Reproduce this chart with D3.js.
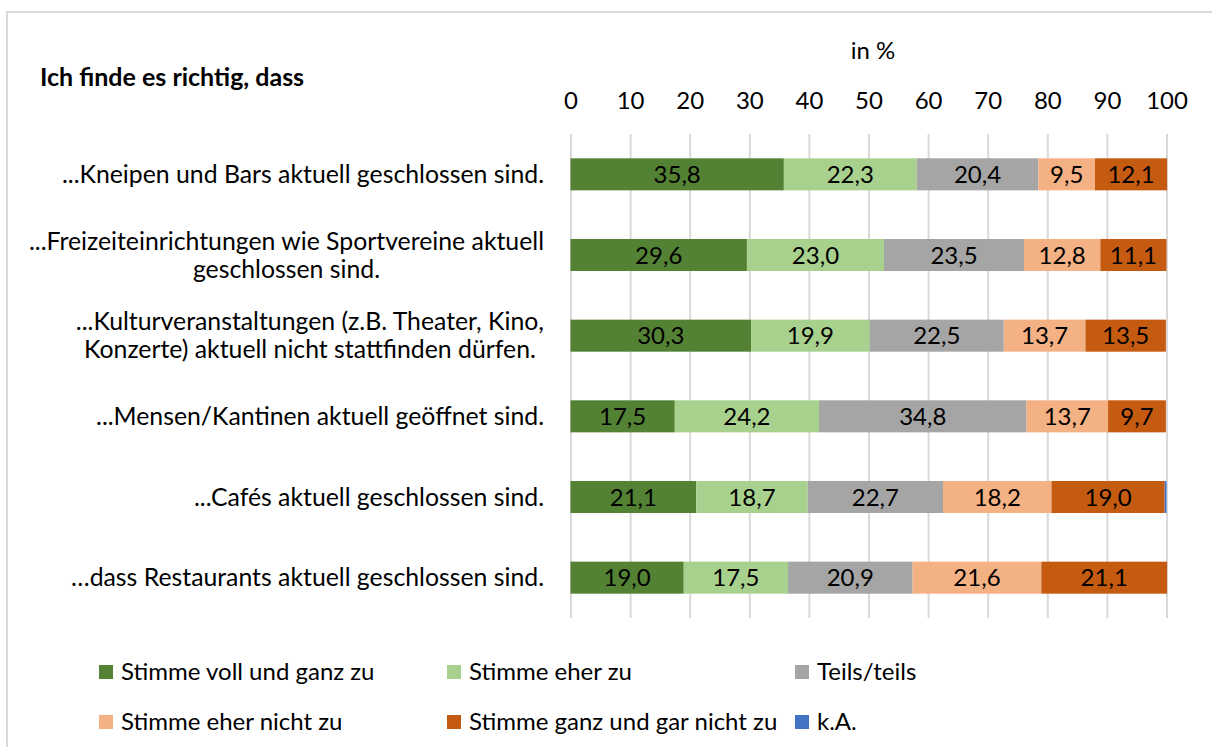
<!DOCTYPE html>
<html>
<head>
<meta charset="utf-8">
<script src="https://cdn.jsdelivr.net/npm/d3@7"></script>
<style>
  body { margin: 0; background: #fff; }
  text { font-family: Lato, "Open Sans", sans-serif; fill: #000; }
</style>
</head>
<body>
<div id="chart"></div>
<script>
// categories (top to bottom), each label split in lines
var categories = [
  ["...Kneipen und Bars aktuell geschlossen sind."],
  ["...Freizeiteinrichtungen wie Sportvereine aktuell", "geschlossen sind."],
  ["...Kulturveranstaltungen (z.B. Theater, Kino,", "Konzerte) aktuell nicht stattfinden dürfen."],
  ["...Mensen/Kantinen aktuell geöffnet sind."],
  ["...Cafés aktuell geschlossen sind."],
  ["…dass Restaurants aktuell geschlossen sind."]
];

var seriesNames = ["Stimme voll und ganz zu", "Stimme eher zu", "Teils/teils",
  "Stimme eher nicht zu", "Stimme ganz und gar nicht zu", "k.A."];
var seriesColors = ["#548235", "#A9D18E", "#A5A5A5", "#F4B183", "#C55A11", "#4472C4"];

// values per series, one per category
var vollGanz   = [35.8, 29.6, 30.3, 17.5, 21.1, 19.0];
var eherZu     = [22.3, 23.0, 19.9, 24.2, 18.7, 17.5];
var teilsTeils = [20.4, 23.5, 22.5, 34.8, 22.7, 20.9];
var eherNicht  = [9.5, 12.8, 13.7, 13.7, 18.2, 21.6];
var garNicht   = [12.1, 11.1, 13.5, 9.7, 19.0, 21.1];
var keineAngabe = [0, 0, 0, 0, 0.3, 0];

var xTicks = [0, 10, 20, 30, 40, 50, 60, 70, 80, 90, 100];

var width = 1212, height = 747;
var fs = 24;
var series = [vollGanz, eherZu, teilsTeils, eherNicht, garNicht, keineAngabe];

var rows = categories.map(function(c, i) {
  var r = { key: i };
  seriesNames.forEach(function(s, j) { r[s] = series[j][i]; });
  return r;
});

var svg = d3.select("#chart").append("svg")
  .attr("width", width)
  .attr("height", height);

// outer frame
svg.append("rect")
  .attr("x", 7).attr("y", 12)
  .attr("width", 1220).attr("height", 760)
  .attr("fill", "none")
  .attr("stroke", "#D9D9D9")
  .attr("stroke-width", 2);

var x = d3.scaleLinear().domain([0, 100]).range([570.5, 1166.5]);
var y = d3.scaleBand().domain(d3.range(categories.length))
  .range([134, 618]).paddingInner(0.603).paddingOuter(0.3015);

// gridlines
var grid = svg.append("g")
  .attr("transform", "translate(0,134)")
  .call(d3.axisBottom(x).tickValues(xTicks).tickSize(484).tickFormat(""));
grid.select(".domain").remove();
grid.selectAll("line").attr("stroke", "#D9D9D9").attr("stroke-width", 2);

// tick labels on top
var xAxisTop = svg.append("g")
  .attr("transform", "translate(0,109)")
  .call(d3.axisTop(x).tickValues(xTicks).tickSize(0).tickPadding(0));
xAxisTop.select(".domain").remove();
xAxisTop.selectAll("text")
  .attr("font-size", fs)
  .attr("font-family", "Lato, 'Open Sans', sans-serif")
  .attr("fill", "#000");

svg.append("text")
  .attr("x", 873).attr("y", 51)
  .attr("dy", "0.35em")
  .attr("text-anchor", "middle")
  .attr("font-size", fs)
  .text("in %");

svg.append("text")
  .attr("x", 40).attr("y", 77)
  .attr("dy", "0.35em")
  .attr("font-size", 25)
  .attr("font-weight", "bold")
  .text("Ich finde es richtig, dass");

// stacked bars
var stack = d3.stack().keys(seriesNames)(rows);

var layers = svg.append("g").selectAll("g")
  .data(stack)
  .enter().append("g")
  .attr("fill", function(d, i) { return seriesColors[i]; });

layers.selectAll("rect")
  .data(function(d) { return d; })
  .enter().append("rect")
  .attr("x", function(d) { return x(d[0]); })
  .attr("y", function(d) { return y(d.data.key); })
  .attr("width", function(d) { return Math.max(0, x(d[1]) - x(d[0])); })
  .attr("height", y.bandwidth());

layers.selectAll("text")
  .data(function(d) { return d.filter(function(e) { return e[1] - e[0] >= 1; }); })
  .enter().append("text")
  .attr("x", function(d) { return (x(d[0]) + x(d[1])) / 2; })
  .attr("y", function(d) { return y(d.data.key) + y.bandwidth() / 2; })
  .attr("dy", "0.36em")
  .attr("text-anchor", "middle")
  .attr("font-size", fs)
  .text(function(d) { return d3.format(".1f")(d[1] - d[0]).replace(".", ","); });

// category labels: block right aligned, lines centred in block
var labelRight = 544, lineH = 28;
categories.forEach(function(lines, i) {
  var g = svg.append("g");
  var cy = y(i) + y.bandwidth() / 2;
  var texts = lines.map(function(l, k) {
    return g.append("text")
      .attr("y", cy + (k - (lines.length - 1) / 2) * lineH)
      .attr("dy", "0.35em")
      .attr("font-size", 24.8)
      .attr("text-anchor", "middle")
      .text(l);
  });
  var w = d3.max(texts, function(t) { return t.node().getComputedTextLength(); });
  texts.forEach(function(t) { t.attr("x", labelRight - w / 2); });
});

// legend
var legendPos = [[99, 672], [447, 672], [795, 672], [99, 722], [447, 722], [795, 722]];
var legend = svg.append("g").selectAll("g")
  .data(seriesNames)
  .enter().append("g")
  .attr("transform", function(d, i) { return "translate(" + legendPos[i][0] + "," + legendPos[i][1] + ")"; });

legend.append("rect")
  .attr("x", 0).attr("y", -7)
  .attr("width", 14).attr("height", 14)
  .attr("fill", function(d, i) { return seriesColors[i]; });

legend.append("text")
  .attr("x", 22)
  .attr("dy", "0.35em")
  .attr("font-size", fs)
  .text(function(d) { return d; });
</script>
</body>
</html>
